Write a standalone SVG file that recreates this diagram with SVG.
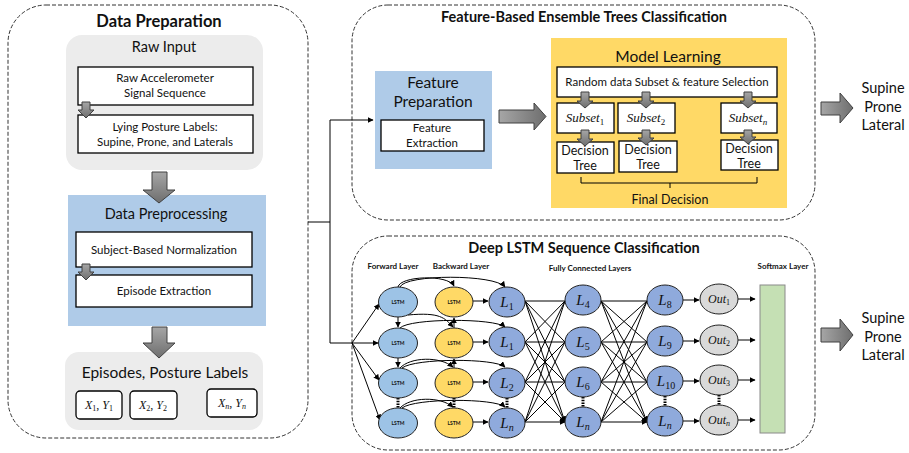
<svg xmlns="http://www.w3.org/2000/svg" width="909" height="453" viewBox="0 0 909 453">
<defs>
<linearGradient id="ga" x1="0" y1="0" x2="1" y2="0"><stop offset="0" stop-color="#a6a6a6"/><stop offset="1" stop-color="#6e6e6e"/></linearGradient>
<linearGradient id="gv" x1="0" y1="0" x2="0" y2="1"><stop offset="0" stop-color="#a6a6a6"/><stop offset="1" stop-color="#6e6e6e"/></linearGradient>
<marker id="ah" viewBox="0 0 10 10" refX="9" refY="5" markerWidth="6" markerHeight="6" markerUnits="userSpaceOnUse" orient="auto"><path d="M0,0 L10,5 L0,10 z" fill="#000"/></marker>
<style>
.panel{fill:none;stroke:#333;stroke-width:1;stroke-dasharray:4,2}
.wb{fill:#fff;stroke:#000;stroke-width:1.3}
.t{font-family:Lato,"Liberation Sans",sans-serif;fill:#111;text-anchor:middle}
.b{font-weight:bold}
.m{font-family:"Liberation Serif",serif;font-style:italic;fill:#111;text-anchor:middle}
.ba{fill:url(#gv);stroke:#404040;stroke-width:1}
.bh{fill:url(#ga);stroke:#404040;stroke-width:1}
.ln{fill:none;stroke:#000;stroke-width:1}
.fw{fill:#9dc3e6;stroke:#222;stroke-width:1}
.bw{fill:#ffd966;stroke:#222;stroke-width:1}
.ll{fill:#8faadc;stroke:#222;stroke-width:1}
.ou{fill:#d9d9d9;stroke:#222;stroke-width:1}
.ls{font-family:Lato,"Liberation Sans",sans-serif;font-size:5px;font-weight:bold;fill:#111;text-anchor:middle}
.dt{stroke:#000;stroke-width:3;stroke-dasharray:1.5,1.2}
</style>
</defs>

<!-- Left panel -->
<g id="data-preparation">
<rect class="panel" x="8" y="5" width="300" height="433" rx="38"/>
<text class="t b" x="159" y="27" font-size="16.5">Data Preparation</text>
</g>
<g id="raw-input">
<rect x="66" y="35" width="197" height="135" rx="16" fill="#ececec"/>
<text class="t" x="164" y="52" font-size="14.5">Raw Input</text>
<rect class="wb" x="78" y="67" width="175" height="38"/>
<text class="t" x="165" y="82" font-size="11.5">Raw Accelerometer</text>
<text class="t" x="165" y="97" font-size="11.5">Signal Sequence</text>
<rect class="wb" x="78" y="115" width="175" height="38"/>
<text class="t" x="165" y="131" font-size="11.5">Lying Posture Labels:</text>
<text class="t" x="165" y="146" font-size="11.5">Supine, Prone, and Laterals</text>
<path class="ba" d="M82,102 H90 V110 H94 L86,118 L78,110 H82 Z"/>
</g>
<g id="data-preprocessing">
<rect x="68" y="195" width="198" height="131" fill="#afcbe8"/>
<text class="t" x="166" y="219" font-size="14.5">Data Preprocessing</text>
<rect class="wb" x="76" y="232" width="176" height="35"/>
<text class="t" x="164" y="254" font-size="11.5">Subject-Based Normalization</text>
<rect class="wb" x="76" y="275" width="176" height="32"/>
<text class="t" x="164" y="295" font-size="11.5">Episode Extraction</text>
<path class="ba" d="M82,264 H90 V272 H94 L86,280 L78,272 H82 Z"/>
</g>
<g id="episodes">
<rect x="65" y="352" width="198" height="78" rx="14" fill="#ececec"/>
<text class="t" x="165" y="378" font-size="15.5">Episodes, Posture Labels</text>
<rect class="wb" x="76" y="391" width="46" height="28" rx="4"/>
<text class="m" x="99" y="409" font-size="12">X<tspan font-size="8" dy="2" font-style="normal">1</tspan><tspan dy="-2" font-style="normal">, </tspan>Y<tspan font-size="8" dy="2" font-style="normal">1</tspan></text>
<rect class="wb" x="130" y="391" width="47" height="28" rx="4"/>
<text class="m" x="153" y="409" font-size="12">X<tspan font-size="8" dy="2" font-style="normal">2</tspan><tspan dy="-2" font-style="normal">, </tspan>Y<tspan font-size="8" dy="2" font-style="normal">2</tspan></text>
<rect class="wb" x="207" y="389" width="50" height="28" rx="4"/>
<text class="m" x="232" y="407" font-size="12">X<tspan font-size="8" dy="2">n</tspan><tspan dy="-2" font-style="normal">, </tspan>Y<tspan font-size="8" dy="2">n</tspan></text>
</g>
<g id="big-arrows-left">
<path class="ba" d="M152,172 H167 V190 H175 L159,203 L143,190 H152 Z"/>
<path class="ba" d="M152,327 H167 V343 H175 L159,358 L143,343 H152 Z"/>
</g>

<!-- Top right panel -->
<g id="ensemble-panel">
<rect class="panel" x="352" y="5" width="463" height="215" rx="36"/>
<text class="t b" x="584" y="22" font-size="14.5">Feature-Based Ensemble Trees Classification</text>
</g>
<g id="feature-preparation">
<rect x="375" y="71" width="117" height="98" fill="#afcbe8"/>
<text class="t" x="433" y="88" font-size="15.5">Feature</text>
<text class="t" x="433" y="107" font-size="15.5">Preparation</text>
<rect class="wb" x="381" y="120" width="103" height="31"/>
<text class="t" x="432" y="132" font-size="11.5">Feature</text>
<text class="t" x="432" y="147" font-size="11.5">Extraction</text>
</g>
<path class="bh" d="M499,110 H534 V103 L546,116.5 L534,130 V123 H499 Z"/>
<g id="model-learning">
<rect x="551" y="38" width="236" height="170" fill="#ffd966"/>
<text class="t" x="668" y="62" font-size="15.5">Model Learning</text>
<rect class="wb" x="557" y="67" width="220" height="30"/>
<text class="t" x="667" y="86" font-size="11.5">Random data Subset &amp; feature Selection</text>
<rect class="wb" x="557" y="103" width="57" height="30"/>
<text class="m" x="585" y="122" font-size="13">Subset<tspan font-size="9" dy="3" font-style="normal">1</tspan></text>
<rect class="wb" x="618" y="103" width="57" height="30"/>
<text class="m" x="646" y="122" font-size="13">Subset<tspan font-size="9" dy="3" font-style="normal">2</tspan></text>
<rect class="wb" x="721" y="103" width="56" height="30"/>
<text class="m" x="748" y="122" font-size="13">Subset<tspan font-size="9" dy="3">n</tspan></text>
<rect class="wb" x="557" y="142" width="57" height="31"/>
<text class="t" x="585" y="155" font-size="12.5">Decision</text>
<text class="t" x="585" y="170" font-size="12.5">Tree</text>
<rect class="wb" x="619" y="141" width="58" height="31"/>
<text class="t" x="648" y="154" font-size="12.5">Decision</text>
<text class="t" x="648" y="169" font-size="12.5">Tree</text>
<rect class="wb" x="721" y="140" width="57" height="30"/>
<text class="t" x="749" y="153" font-size="12.5">Decision</text>
<text class="t" x="749" y="168" font-size="12.5">Tree</text>
<path class="ba" d="M581,92 H589 V101 H593 L585,108 L577,101 H581 Z"/>
<path class="ba" d="M642,92 H650 V101 H654 L646,108 L638,101 H642 Z"/>
<path class="ba" d="M744,92 H752 V101 H756 L748,108 L740,101 H744 Z"/>
<path class="ba" d="M581,130 H589 V139 H593 L585,146 L577,139 H581 Z"/>
<path class="ba" d="M642,130 H650 V138 H654 L646,145 L638,138 H642 Z"/>
<path class="ba" d="M744,130 H752 V137 H756 L748,144 L740,137 H744 Z"/>
<path class="ln" d="M581,177 V183 H757 V177 M670,183 V188" stroke-width="1.2"/>
<text class="t" x="670" y="204" font-size="12.5">Final Decision</text>
</g>
<g id="out-top">
<path class="bh" d="M821,102 H840 V93 L853,108 L840,123 V115 H821 Z"/>
<text class="t" x="883" y="93" font-size="14.5">Supine</text>
<text class="t" x="883" y="112" font-size="14.5">Prone</text>
<text class="t" x="883" y="130" font-size="14.5">Lateral</text>
</g>

<!-- Bottom right panel -->
<g id="lstm-panel">
<rect class="panel" x="352" y="236" width="463" height="214" rx="36"/>
<text class="t b" x="584" y="253" font-size="14.5">Deep LSTM Sequence Classification</text>
<text class="t b" x="393" y="269" font-size="8">Forward Layer</text>
<text class="t b" x="461" y="269" font-size="8">Backward Layer</text>
<text class="t b" x="590" y="271" font-size="8">Fully Connected Layers</text>
<text class="t b" x="783" y="269" font-size="8">Softmax Layer</text>
</g>
<g id="out-bottom">
<path class="bh" d="M821,328 H840 V319 L853,335 L840,351 V342 H821 Z"/>
<text class="t" x="883" y="323" font-size="14.5">Supine</text>
<text class="t" x="883" y="342" font-size="14.5">Prone</text>
<text class="t" x="883" y="360" font-size="14.5">Lateral</text>
</g>

<!-- connectors -->
<g id="connectors">
<path class="ln" d="M308,222 H330 M330,120 V343 H352" stroke-width="1.3"/>
<path class="ln" d="M330,120 H373" stroke-width="1.3" marker-end="url(#ah)"/>
<path class="ln" d="M352,343 L379,304" marker-end="url(#ah)"/>
<path class="ln" d="M352,343 L378,343" marker-end="url(#ah)"/>
<path class="ln" d="M352,343 L379,380" marker-end="url(#ah)"/>
<path class="ln" d="M352,343 L380,420" marker-end="url(#ah)"/>
<path class="ln" d="M398,287 C400,276 448,274 454,286" marker-end="url(#ah)"/>
<path class="ln" d="M400,287 C405,274 495,274 505,287" marker-end="url(#ah)"/>
<path class="ln" d="M398,317 V327" marker-end="url(#ah)"/>
<path class="ln" d="M454,328 V318" marker-end="url(#ah)"/>
<path class="ln" d="M408,315 C440,312 445,318 453,327" marker-end="url(#ah)"/>
<path class="ln" d="M400,328 C410,318 495,318 505,327" marker-end="url(#ah)"/>
<path class="ln" d="M398,358 V367" marker-end="url(#ah)"/>
<path class="ln" d="M454,368 V359" marker-end="url(#ah)"/>
<path class="ln" d="M400,368 C410,357 440,356 453,367" marker-end="url(#ah)"/>
<path class="ln" d="M402,368 C415,358 495,358 505,367" marker-end="url(#ah)"/>
<path class="ln" d="M400,408 C410,397 440,396 453,407" marker-end="url(#ah)"/>
<path class="ln" d="M402,408 C415,398 495,398 505,407" marker-end="url(#ah)"/>
<path class="dt" d="M398,398 V408 M454,398 V408 M507,398 V408 M583,397 V407 M665,396 V406 M719,395 V405"/>
<path class="ln" d="M473,301 H488" marker-end="url(#ah)"/>
<path class="ln" d="M473,342 H488" marker-end="url(#ah)"/>
<path class="ln" d="M473,382 H488" marker-end="url(#ah)"/>
<path class="ln" d="M473,422 H488" marker-end="url(#ah)"/>
<g stroke-width="0.8">
<path class="ln" d="M525,301 L565,301 M525,301 L565,342 M525,301 L565,382 M525,301 L565,422" marker-end="url(#ah)"/>
<path class="ln" d="M525,342 L565,301 M525,342 L565,342 M525,342 L565,382 M525,342 L565,422" marker-end="url(#ah)"/>
<path class="ln" d="M525,382 L565,301 M525,382 L565,342 M525,382 L565,382 M525,382 L565,422" marker-end="url(#ah)"/>
<path class="ln" d="M525,422 L565,301 M525,422 L565,342 M525,422 L565,382 M525,422 L565,422" marker-end="url(#ah)"/>
</g>
<g stroke-width="0.8">
<path class="ln" d="M601,301 L647,301 M601,301 L647,342 M601,301 L647,382 M601,301 L647,422" marker-end="url(#ah)"/>
<path class="ln" d="M601,342 L647,301 M601,342 L647,342 M601,342 L647,382 M601,342 L647,422" marker-end="url(#ah)"/>
<path class="ln" d="M601,382 L647,301 M601,382 L647,342 M601,382 L647,382 M601,382 L647,422" marker-end="url(#ah)"/>
<path class="ln" d="M601,422 L647,301 M601,422 L647,342 M601,422 L647,382 M601,422 L647,422" marker-end="url(#ah)"/>
</g>
<path class="ln" d="M683,300 H699" marker-end="url(#ah)"/>
<path class="ln" d="M683,341 H699" marker-end="url(#ah)"/>
<path class="ln" d="M683,381 H699" marker-end="url(#ah)"/>
<path class="ln" d="M683,421 H699" marker-end="url(#ah)"/>
<path class="ln" d="M738,299 H755" marker-end="url(#ah)"/>
<path class="ln" d="M738,340 H755" marker-end="url(#ah)"/>
<path class="ln" d="M738,380 H755" marker-end="url(#ah)"/>
<path class="ln" d="M738,420 H755" marker-end="url(#ah)"/>
</g>

<!-- nodes -->
<g id="fw1"><ellipse class="fw" cx="398" cy="302" rx="19.5" ry="15"/><text class="ls" x="398" y="304">LSTM</text></g>
<g id="fw2"><ellipse class="fw" cx="398" cy="343" rx="19.5" ry="15"/><text class="ls" x="398" y="345">LSTM</text></g>
<g id="fw3"><ellipse class="fw" cx="398" cy="383" rx="19.5" ry="15"/><text class="ls" x="398" y="385">LSTM</text></g>
<g id="fw4"><ellipse class="fw" cx="398" cy="423" rx="19.5" ry="15"/><text class="ls" x="398" y="425">LSTM</text></g>
<g id="bw1"><ellipse class="bw" cx="454" cy="302" rx="19" ry="15"/><text class="ls" x="454" y="304">LSTM</text></g>
<g id="bw2"><ellipse class="bw" cx="454" cy="343" rx="19" ry="15"/><text class="ls" x="454" y="345">LSTM</text></g>
<g id="bw3"><ellipse class="bw" cx="454" cy="383" rx="19" ry="15"/><text class="ls" x="454" y="385">LSTM</text></g>
<g id="bw4"><ellipse class="bw" cx="454" cy="423" rx="19" ry="15"/><text class="ls" x="454" y="425">LSTM</text></g>
<g id="l1a"><ellipse class="ll" cx="507" cy="302" rx="18" ry="15"/><text class="m" x="507" y="307" font-size="15">L<tspan font-size="10" dy="3" font-style="normal">1</tspan></text></g>
<g id="l1b"><ellipse class="ll" cx="507" cy="342" rx="18" ry="15"/><text class="m" x="507" y="347" font-size="15">L<tspan font-size="10" dy="3" font-style="normal">1</tspan></text></g>
<g id="l2"><ellipse class="ll" cx="507" cy="383" rx="18" ry="15"/><text class="m" x="507" y="388" font-size="15">L<tspan font-size="10" dy="3" font-style="normal">2</tspan></text></g>
<g id="ln1"><ellipse class="ll" cx="507" cy="423" rx="18" ry="15"/><text class="m" x="507" y="428" font-size="15">L<tspan font-size="10" dy="3">n</tspan></text></g>
<g id="l4"><ellipse class="ll" cx="583" cy="300" rx="18" ry="15"/><text class="m" x="583" y="305" font-size="15">L<tspan font-size="10" dy="3" font-style="normal">4</tspan></text></g>
<g id="l5"><ellipse class="ll" cx="583" cy="342" rx="18" ry="15"/><text class="m" x="583" y="347" font-size="15">L<tspan font-size="10" dy="3" font-style="normal">5</tspan></text></g>
<g id="l6"><ellipse class="ll" cx="583" cy="382" rx="18" ry="15"/><text class="m" x="583" y="387" font-size="15">L<tspan font-size="10" dy="3" font-style="normal">6</tspan></text></g>
<g id="ln2"><ellipse class="ll" cx="583" cy="422" rx="18" ry="15"/><text class="m" x="583" y="427" font-size="15">L<tspan font-size="10" dy="3">n</tspan></text></g>
<g id="l8"><ellipse class="ll" cx="665" cy="300" rx="18" ry="15"/><text class="m" x="665" y="305" font-size="15">L<tspan font-size="10" dy="3" font-style="normal">8</tspan></text></g>
<g id="l9"><ellipse class="ll" cx="665" cy="341" rx="18" ry="15"/><text class="m" x="665" y="346" font-size="15">L<tspan font-size="10" dy="3" font-style="normal">9</tspan></text></g>
<g id="l10"><ellipse class="ll" cx="665" cy="381" rx="18" ry="15"/><text class="m" x="666" y="386" font-size="15">L<tspan font-size="10" dy="3" font-style="normal">10</tspan></text></g>
<g id="ln3"><ellipse class="ll" cx="665" cy="421" rx="18" ry="15"/><text class="m" x="665" y="426" font-size="15">L<tspan font-size="10" dy="3">n</tspan></text></g>
<g id="out1"><ellipse class="ou" cx="719" cy="299" rx="19" ry="15"/><text class="m" x="719" y="303" font-size="12">Out<tspan font-size="8" dy="2" font-style="normal">1</tspan></text></g>
<g id="out2"><ellipse class="ou" cx="719" cy="340" rx="19" ry="15"/><text class="m" x="719" y="344" font-size="12">Out<tspan font-size="8" dy="2" font-style="normal">2</tspan></text></g>
<g id="out3"><ellipse class="ou" cx="719" cy="380" rx="19" ry="15"/><text class="m" x="719" y="384" font-size="12">Out<tspan font-size="8" dy="2" font-style="normal">3</tspan></text></g>
<g id="outn"><ellipse class="ou" cx="719" cy="420" rx="19" ry="15"/><text class="m" x="719" y="424" font-size="12">Out<tspan font-size="8" dy="2">n</tspan></text></g>
<g id="softmax"><rect x="760" y="285" width="25" height="148" fill="#c5e0b4" stroke="#8a8a8a" stroke-width="1"/></g>
</svg>
